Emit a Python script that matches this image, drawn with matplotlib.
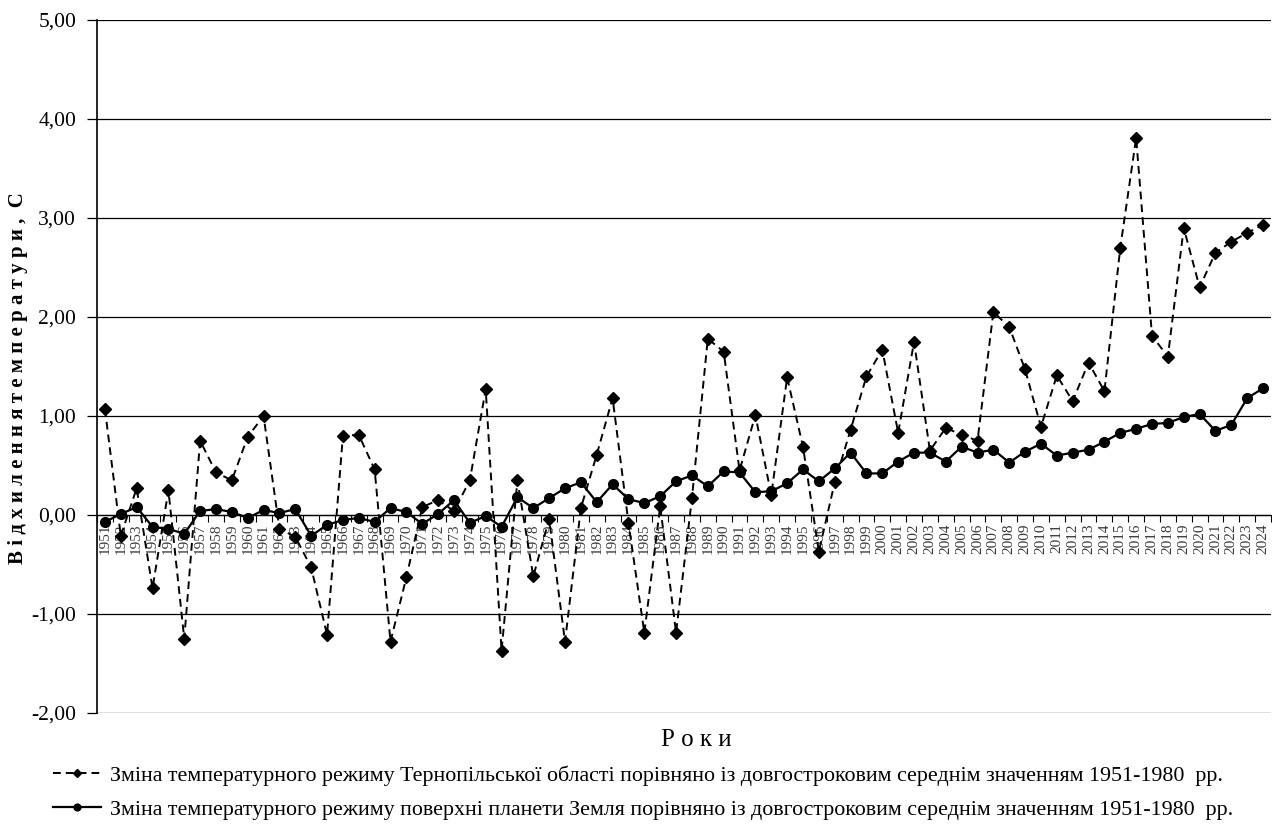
import matplotlib
matplotlib.use('Agg')
import matplotlib.pyplot as plt
from matplotlib.ticker import FixedLocator, FuncFormatter

plt.rcParams['font.family'] = ['Liberation Serif', 'DejaVu Serif']

roky = list(range(1951, 2025))

ternopil = [1.07, -0.21, 0.27, -0.74, 0.25, -1.25, 0.75, 0.43, 0.35, 0.79,
            1.00, -0.14, -0.22, -0.53, -1.21, 0.80, 0.81, 0.46, -1.28, -0.63,
            0.08, 0.15, 0.04, 0.35, 1.27, -1.37, 0.35, -0.62, -0.04, -1.28,
            0.07, 0.61, 1.18, -0.08, -1.19, 0.09, -1.19, 0.17, 1.78, 1.65,
            0.45, 1.01, 0.20, 1.39, 0.69, -0.37, 0.33, 0.86, 1.40, 1.67,
            0.83, 1.75, 0.65, 0.88, 0.81, 0.75, 2.05, 1.90, 1.47, 0.89,
            1.41, 1.15, 1.54, 1.25, 2.70, 3.81, 1.81, 1.60, 2.90, 2.30,
            2.65, 2.76, 2.85, 2.93]

zemlya = [-0.07, 0.01, 0.08, -0.12, -0.14, -0.19, 0.04, 0.06, 0.03, -0.03,
          0.05, 0.02, 0.06, -0.21, -0.10, -0.05, -0.03, -0.07, 0.07, 0.03,
          -0.09, 0.01, 0.15, -0.08, -0.01, -0.12, 0.18, 0.07, 0.17, 0.27,
          0.33, 0.13, 0.31, 0.16, 0.12, 0.19, 0.34, 0.40, 0.29, 0.44,
          0.43, 0.23, 0.24, 0.32, 0.46, 0.34, 0.47, 0.63, 0.42, 0.42,
          0.54, 0.63, 0.63, 0.54, 0.69, 0.63, 0.66, 0.53, 0.64, 0.72,
          0.60, 0.63, 0.66, 0.74, 0.83, 0.87, 0.92, 0.93, 0.99, 1.02,
          0.85, 0.91, 1.18, 1.28]

y_ticks = [-2, -1, 0, 1, 2, 3, 4, 5]

label_ternopil = ('Зміна температурного режиму Тернопільської області порівняно '
                  'із довгостроковим середнім значенням 1951-1980  рр.')
label_zemlya = ('Зміна температурного режиму поверхні планети Земля порівняно '
                'із довгостроковим середнім значенням 1951-1980  рр.')

W, H = 1272, 825
fig = plt.figure(figsize=(W / 100, H / 100), dpi=100)
# plot area: x 97..1271 px, y 20..713 px
ax = fig.add_axes([97 / W, 1 - 713 / H, (1271 - 97) / W, (713 - 20) / H])

ax.plot(roky, ternopil, color='black', linestyle=(0, (4, 2.6)), linewidth=1.4,
        marker='D', markersize=6.5, label=label_ternopil, zorder=3)
ax.plot(roky, zemlya, color='black', linestyle='-', linewidth=1.6,
        marker='o', markersize=7, label=label_zemlya, zorder=3)

ax.set_xlim(1950.5, 2024.5)
ax.set_ylim(-2, 5)
ax.set_yticks(y_ticks)
ax.yaxis.set_major_formatter(FuncFormatter(lambda v, p: ('%.2f' % v).replace('.', ',')))
ax.grid(axis='y', color='black', linewidth=0.9)
ax.set_axisbelow(True)

# category axis crosses at zero
ax.spines['bottom'].set_position(('data', 0))
ax.spines['top'].set_visible(False)
ax.spines['right'].set_visible(False)
ax.spines['left'].set_linewidth(1.2)
ax.spines['bottom'].set_linewidth(0.9)

ax.xaxis.set_major_locator(FixedLocator([r - 0.5 for r in roky] + [2024.5]))
ax.xaxis.set_major_formatter(FuncFormatter(lambda v, p: ''))
ax.xaxis.set_minor_locator(FixedLocator(roky))
ax.xaxis.set_minor_formatter(FuncFormatter(lambda v, p: '%d' % round(v)))
ax.tick_params(axis='x', which='major', direction='out', length=5, width=0.8)
ax.tick_params(axis='x', which='minor', length=0, pad=6, labelsize=11,
               labelrotation=90, labelcolor='#3a3a3a')
ax.tick_params(axis='y', direction='out', length=7, width=0.9, labelsize=15.5, pad=8)

fig.text(18 / W, 1 - 378 / H,
         'В і д х и л е н н я т е м п е р а т у р и ,  С',
         rotation=90, ha='center', va='center', fontsize=15, fontweight='bold')
fig.text(696 / W, 1 - 740 / H, 'Р о к и', ha='center', va='center', fontsize=18)

fig.legend(loc='upper left', bbox_to_anchor=(53 / W, 1 - 765 / H), frameon=False,
           fontsize=15.8, borderpad=0, borderaxespad=0, handlelength=2.2,
           handletextpad=0.4, labelspacing=0.65, markerscale=0.7)

plt.savefig('out.png', dpi=100)
